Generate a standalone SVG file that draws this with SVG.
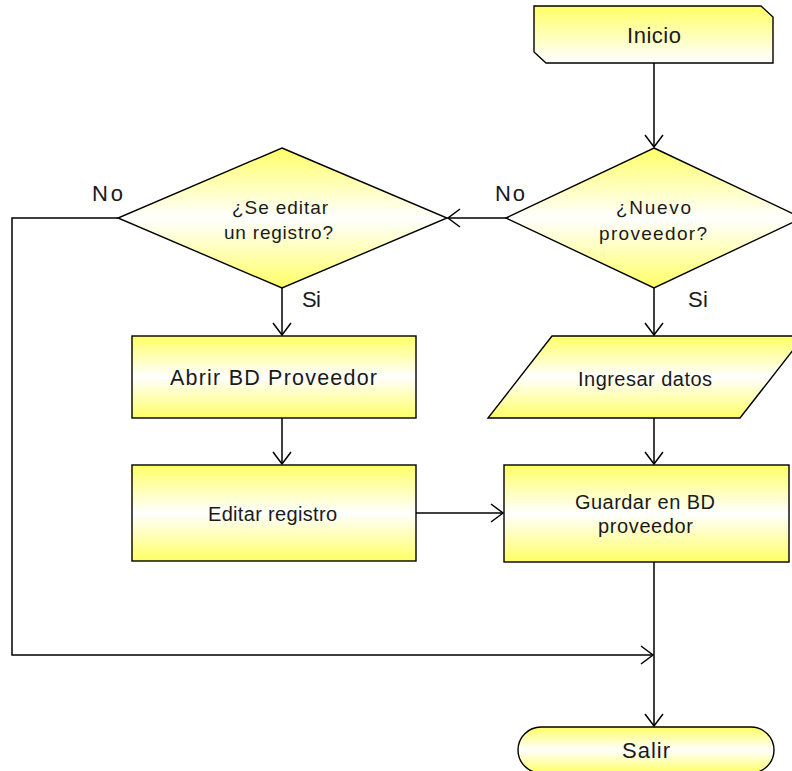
<svg xmlns="http://www.w3.org/2000/svg" width="792" height="771" viewBox="0 0 792 771">
  <defs>
    <linearGradient id="gBox" x1="0" y1="0" x2="0" y2="1">
      <stop offset="0" stop-color="#FFFF66"/>
      <stop offset="0.5" stop-color="#FFFFFF"/>
      <stop offset="1" stop-color="#FFFF66"/>
    </linearGradient>
    <linearGradient id="gTop" x1="0" y1="0" x2="0" y2="1">
      <stop offset="0" stop-color="#FFFF66"/>
      <stop offset="0.9" stop-color="#FFFFF4"/>
      <stop offset="1" stop-color="#FFFFF8"/>
    </linearGradient>
    <marker id="arr" markerUnits="userSpaceOnUse" markerWidth="16" markerHeight="22" viewBox="-14 -11 16 22" refX="0" refY="0" orient="auto">
      <path d="M-12,-9 L0,0 L-12,9" fill="none" stroke="#000" stroke-width="1.5"/>
    </marker>
  </defs>
  <style>
    .shape { stroke: #000; stroke-width: 1.4; }
    .box { fill: url(#gBox); }
    .t { font-family: "Liberation Sans", Arial, sans-serif; fill: #1a1a1a; text-anchor: middle; }
    .lbl { font-family: "Liberation Sans", Arial, sans-serif; fill: #1a1a1a; font-size: 22px; }
    .conn { fill: none; stroke: #000; stroke-width: 1.5; }
  </style>

  <g id="connectors">
    <path class="conn" d="M654,63 L654,147" marker-end="url(#arr)"/>
    <path class="conn" d="M506,218 L448,218" marker-end="url(#arr)"/>
    <path class="conn" d="M654,288 L654,335" marker-end="url(#arr)"/>
    <path class="conn" d="M654,418 L654,464" marker-end="url(#arr)"/>
    <path class="conn" d="M282,288 L282,335" marker-end="url(#arr)"/>
    <path class="conn" d="M282,418 L282,464" marker-end="url(#arr)"/>
    <path class="conn" d="M416,513 L503,513" marker-end="url(#arr)"/>
    <path class="conn" d="M118,218 L12,218 L12,655 L653,655" marker-end="url(#arr)"/>
    <path class="conn" d="M654,562 L654,726" marker-end="url(#arr)"/>
  </g>

  <g id="inicio">
    <polygon class="shape" fill="url(#gTop)" points="534,6 761,6 773,17 773,63 546,63 534,52"/>
    <text class="t" x="654" y="43" font-size="22" textLength="54" lengthAdjust="spacing">Inicio</text>
  </g>

  <g id="nuevo-proveedor">
    <polygon class="shape box" points="654,148 802,218 654,288 506,218"/>
    <text class="t" x="653.5" y="214" font-size="19" textLength="75" lengthAdjust="spacing">¿Nuevo</text>
    <text class="t" x="653" y="240" font-size="19" textLength="108" lengthAdjust="spacing">proveedor?</text>
  </g>

  <g id="se-editar">
    <polygon class="shape box" points="282,148 447,218 282,288 118,218"/>
    <text class="t" x="280" y="214" font-size="19" textLength="96" lengthAdjust="spacing">¿Se editar</text>
    <text class="t" x="278.5" y="239" font-size="19" textLength="109" lengthAdjust="spacing">un registro?</text>
  </g>

  <g id="labels">
    <text class="lbl" x="92" y="201" textLength="31" lengthAdjust="spacing">No</text>
    <text class="lbl" x="495" y="201" textLength="30" lengthAdjust="spacing">No</text>
    <text class="lbl" x="302" y="307" textLength="19" lengthAdjust="spacing">Si</text>
    <text class="lbl" x="688" y="307" textLength="20" lengthAdjust="spacing">Si</text>
  </g>

  <g id="abrir-bd">
    <rect class="shape box" x="132" y="336" width="284" height="82"/>
    <text class="t" x="273.5" y="385" font-size="21.5" textLength="207" lengthAdjust="spacing">Abrir BD Proveedor</text>
  </g>

  <g id="ingresar-datos">
    <polygon class="shape box" points="552,336 804,336 740,418 488,418"/>
    <text class="t" x="645" y="386" font-size="20" textLength="134" lengthAdjust="spacing">Ingresar datos</text>
  </g>

  <g id="editar-registro">
    <rect class="shape box" x="132" y="465" width="284" height="96"/>
    <text class="t" x="272.5" y="521" font-size="20" textLength="129" lengthAdjust="spacing">Editar registro</text>
  </g>

  <g id="guardar">
    <rect class="shape box" x="504" y="465" width="285" height="97"/>
    <text class="t" x="645" y="509" font-size="20" textLength="140" lengthAdjust="spacing">Guardar en BD</text>
    <text class="t" x="645.5" y="533" font-size="20" textLength="95" lengthAdjust="spacing">proveedor</text>
  </g>

  <g id="salir">
    <rect class="shape box" x="518" y="727" width="256" height="46" rx="23" ry="23"/>
    <text class="t" x="646" y="758" font-size="22" textLength="48" lengthAdjust="spacing">Salir</text>
  </g>
</svg>
